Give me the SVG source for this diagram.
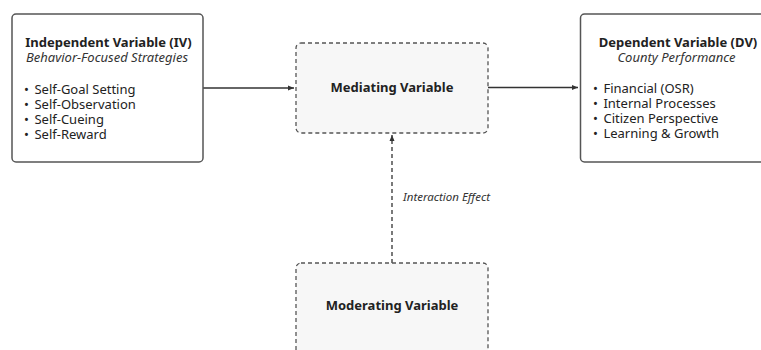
<svg xmlns="http://www.w3.org/2000/svg" width="761" height="350" viewBox="0 0 761 350">
<style>
.solid{fill:#ffffff;stroke:#555555;stroke-width:1.5}
.dashed{fill:#f7f7f7;stroke:#555555;stroke-width:1.3;stroke-dasharray:4 3}
text{font-family:"Noto Sans","Open Sans",sans-serif;fill:#222222}
.title{font-size:13px;font-weight:bold;text-anchor:middle}
.sub{font-size:13px;font-style:italic;text-anchor:middle;fill:#333333}
.item{font-size:13px}
.center{font-size:13px;font-weight:bold;text-anchor:middle}
.lab{font-size:11.5px;font-style:italic;fill:#333333}
.conn{stroke:#333333;stroke-width:1.3;fill:none}
.dash{stroke-dasharray:4 3}
</style>
<defs>
<marker id="arr" viewBox="0 0 6 6" refX="6" refY="3" markerWidth="6" markerHeight="6" markerUnits="userSpaceOnUse" orient="auto">
<path d="M0,0.5 L6,3 L0,5.5 Z" fill="#333333"/>
</marker>
</defs>
<rect width="761" height="350" fill="#ffffff"/>
<g id="connectors">
<line class="conn" x1="203" y1="88" x2="294" y2="88" marker-end="url(#arr)"/>
<line class="conn" x1="488" y1="87.5" x2="578" y2="87.5" marker-end="url(#arr)"/>
<line class="conn dash" x1="392" y1="263" x2="392" y2="135" marker-end="url(#arr)"/>
<text class="lab" x="403" y="201">Interaction Effect</text>
</g>
<g id="iv">
<rect class="solid" x="12" y="14" width="191" height="148" rx="4"/>
<text class="title" x="108.5" y="46.5">Independent Variable (IV)</text>
<text class="sub" x="107" y="62">Behavior-Focused Strategies</text>
<text class="item" x="24" y="93.5">•&#160;&#8201;Self-Goal Setting</text>
<text class="item" x="24" y="108.7">•&#160;&#8201;Self-Observation</text>
<text class="item" x="24" y="123.9">•&#160;&#8201;Self-Cueing</text>
<text class="item" x="24" y="139.1">•&#160;&#8201;Self-Reward</text>
</g>
<g id="mediating">
<rect class="dashed" x="296" y="43" width="192" height="90" rx="5"/>
<text class="center" x="392" y="92">Mediating Variable</text>
</g>
<g id="dv">
<rect class="solid" x="580.5" y="14" width="192" height="148" rx="4"/>
<text class="title" x="678" y="46.5">Dependent Variable (DV)</text>
<text class="sub" x="676.5" y="62">County Performance</text>
<text class="item" x="593" y="92.5">•&#160;&#8201;Financial (OSR)</text>
<text class="item" x="593" y="107.5">•&#160;&#8201;Internal Processes</text>
<text class="item" x="593" y="122.5">•&#160;&#8201;Citizen Perspective</text>
<text class="item" x="593" y="137.5">•&#160;&#8201;Learning &amp; Growth</text>
</g>
<g id="moderating">
<rect class="dashed" x="296" y="263" width="192" height="120" rx="5"/>
<text class="center" x="392" y="310">Moderating Variable</text>
</g>
</svg>
